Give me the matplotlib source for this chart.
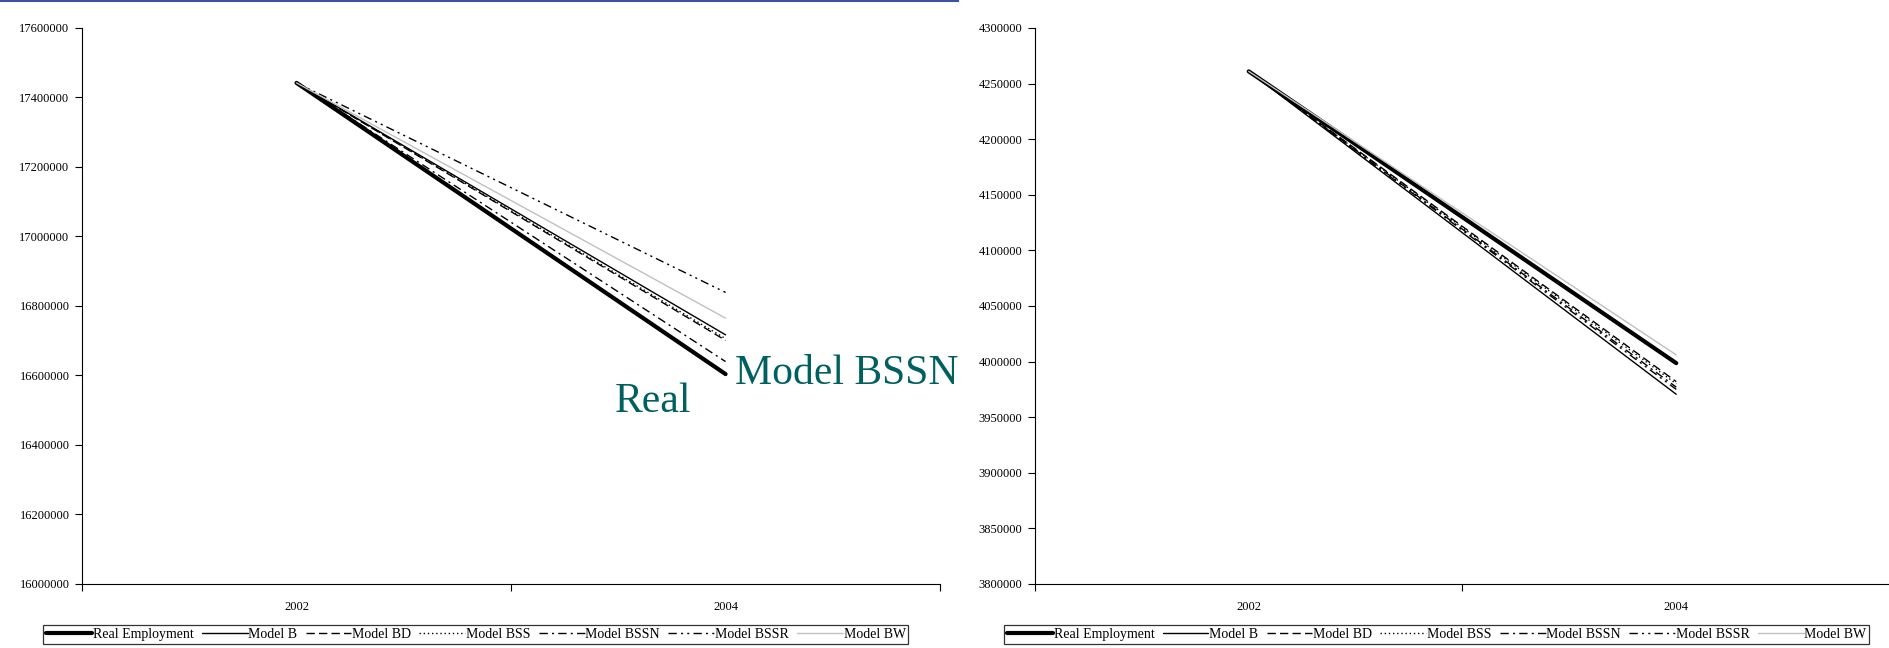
import numpy as np
import matplotlib.pyplot as plt
from matplotlib.lines import Line2D

plt.rcParams['font.family'] = ['Liberation Serif', 'DejaVu Serif']

# two census years shown on both panels
years = ['2002', '2004']
series = ['Real Employment', 'Model B', 'Model BD', 'Model BSS',
          'Model BSSN', 'Model BSSR', 'Model BW']

# total employment (left panel)
total_real = [17442000, 16604000]
total_b = [17442000, 16717000]
total_bd = [17442000, 16701000]
total_bss = [17442000, 16706000]
total_bssn = [17442000, 16640000]
total_bssr = [17442000, 16839000]
total_bw = [17442000, 16765000]

# sector employment (right panel)
sector_real = [4261000, 3998600]
sector_b = [4261000, 3970600]
sector_bd = [4261000, 3982000]
sector_bss = [4261000, 3980000]
sector_bssn = [4261000, 3977000]
sector_bssr = [4261000, 3975000]
sector_bw = [4261000, 4006000]

# line style per series
styles = {
    'Real Employment': dict(color='black', lw=3.0, ls='-'),
    'Model B': dict(color='black', lw=1.0, ls='-'),
    'Model BD': dict(color='black', lw=1.0, ls=(0, (6, 3))),
    'Model BSS': dict(color='black', lw=1.0, ls=(0, (1, 2))),
    'Model BSSN': dict(color='black', lw=1.0, ls=(0, (6, 3, 1.5, 3))),
    'Model BSSR': dict(color='black', lw=1.0, ls=(0, (6, 3, 1.5, 3, 1.5, 3))),
    'Model BW': dict(color='#c0c0c0', lw=1.0, ls='-'),
}


def draw_panel(ax, values, ylim, step, leg_x):
    xpos = np.arange(len(years)) + 0.5
    for name, vals in zip(series, values):
        ax.plot(xpos, vals, label=name, solid_capstyle='round', **styles[name])
    ax.set_xlim(0, len(years))
    ax.set_ylim(*ylim)
    ax.set_yticks(np.arange(ylim[0], ylim[1] + step / 2, step))
    ax.yaxis.set_major_formatter(plt.FuncFormatter(lambda v, p: '%d' % v))
    ax.set_xticks(np.arange(len(years) + 1))
    ax.set_xticklabels([])
    ax.set_xticks(xpos, minor=True)
    ax.set_xticklabels(years, minor=True)
    ax.tick_params(axis='x', which='minor', length=0, pad=12, labelsize=9)
    ax.tick_params(axis='x', which='major', length=5, direction='out')
    ax.tick_params(axis='y', length=5, direction='out', labelsize=9, pad=4)
    for s in ['top', 'right']:
        ax.spines[s].set_visible(False)
    for s in ['left', 'bottom']:
        ax.spines[s].set_linewidth(0.8)
    leg = ax.legend(loc='upper center', bbox_to_anchor=(leg_x, -0.074), ncol=7,
                    fontsize=10, frameon=True, fancybox=False, edgecolor='black',
                    handlelength=3.3, handletextpad=0.05, columnspacing=0.6,
                    borderpad=0.2, borderaxespad=0)
    leg.get_frame().set_linewidth(0.9)
    return leg


fig = plt.figure(figsize=(18.9, 6.48), dpi=100)
ax1 = fig.add_axes([0.0434, 0.0988, 0.454, 0.858])
ax2 = fig.add_axes([0.5476, 0.0988, 0.4524, 0.858])

draw_panel(ax1, [total_real, total_b, total_bd, total_bss, total_bssn, total_bssr, total_bw],
           (16000000, 17600000), 200000, 0.459)
draw_panel(ax2, [sector_real, sector_b, sector_bd, sector_bss, sector_bssn, sector_bssr, sector_bw],
           (3800000, 4300000), 50000, 0.470)

# callouts next to the end of the lines
ax1.text(1.522, 16575000, 'Model BSSN', color='#006060', fontsize=30,
         ha='left', va='baseline', clip_on=False)
ax1.text(1.242, 16494700, 'Real', color='#006060', fontsize=30,
         ha='left', va='baseline', clip_on=False)

# thin header rule over the left half
fig.add_artist(Line2D([0, 0.507], [0.999, 0.999], color='#3f51a0', lw=1.5,
                      transform=fig.transFigure))

fig.savefig('out.png', dpi=100)
